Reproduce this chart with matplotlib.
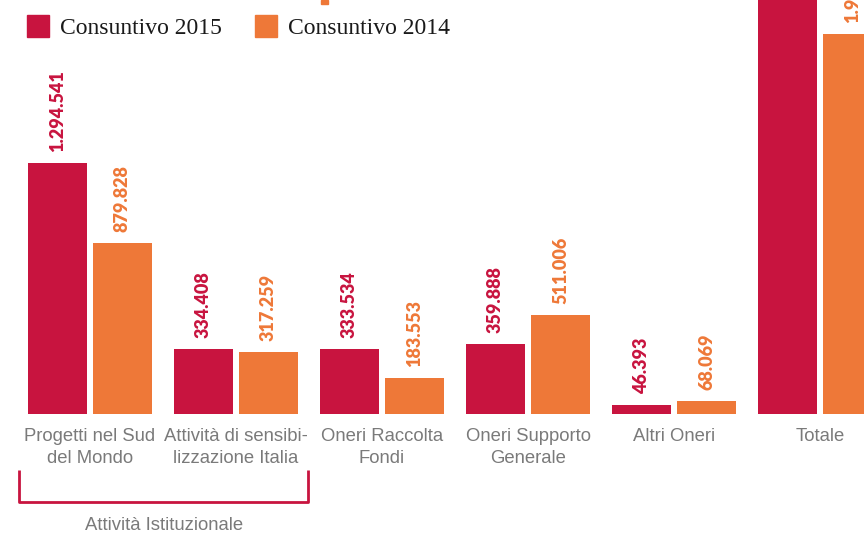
import matplotlib.pyplot as plt
from matplotlib.transforms import blended_transform_factory

categories = ["Progetti nel Sud\ndel Mondo", "Attività di sensibi-\nlizzazione Italia",
              "Oneri Raccolta\nFondi", "Oneri Supporto\nGenerale", "Altri Oneri", "Totale"]
cons_2015 = [1294541, 334408, 333534, 359888, 46393, 2368764]
cons_2014 = [879828, 317259, 183553, 511006, 68069, 1959715]
series_names = ["Consuntivo 2015", "Consuntivo 2014"]
group_label = "Attività Istituzionale"

red = "#C8143F"
orange = "#EE7838"
gray = "#7a7a7a"

fig = plt.figure(figsize=(8.64, 5.36), dpi=100)
ax = fig.add_axes([0, 0, 1, 1])
ax.set_xlim(-0.616, 5.301)
ax.set_ylim(-628500, 2133000)
ax.axis("off")

w = 0.404
off = 0.2226
x = list(range(len(categories)))


def fmt(v):
    return f"{v:,}".replace(",", ".")


for vals, col, sgn in [(cons_2015, red, -1), (cons_2014, orange, 1)]:
    xs = [i + sgn * off for i in x]
    ax.bar(xs, vals, width=w, color=col, linewidth=0)
    for xi, v in zip(xs, vals):
        ax.annotate(fmt(v), (xi, v), xytext=(0, 8), textcoords="offset points",
                    rotation=90, ha="center", va="bottom", color=col,
                    fontsize=13, fontweight="heavy", family="Lato",
                    annotation_clip=False)

trans = blended_transform_factory(ax.transData, ax.transAxes)
for i, lab in enumerate(categories):
    ax.text(i, 0.201, lab, transform=trans, ha="center", va="top",
            color=gray, fontsize=13.3, family="Liberation Sans", linespacing=1.35)

# bracket under the first two groups
x0 = -off - w / 2 - 0.06
x1 = 1 + off + w / 2 + 0.07
ax.plot([x0, x0, x1, x1], [0.123, 0.063, 0.063, 0.123], transform=trans,
        color=red, linewidth=2, solid_capstyle="butt", clip_on=False)
ax.text((x0 + x1) / 2, 0.02, group_label, transform=trans, ha="center",
        va="center", color=gray, fontsize=13.3, family="Liberation Sans")

# legend
for xs, col, name in [(27, red, series_names[0]), (255, orange, series_names[1])]:
    fig.patches.append(plt.Rectangle((xs / 864, 1 - 37 / 536), 22 / 864, 22 / 536,
                                     transform=fig.transFigure, color=col))
    fig.text((xs + 33) / 864, 1 - 29 / 536, name, ha="left", va="center",
             fontsize=17, family="Liberation Serif", color="#1a1a1a")

# small orange tick at the top (cut-off title underline)
fig.patches.append(plt.Rectangle((321 / 864, 1 - 4 / 536), 7 / 864, 4 / 536,
                                 transform=fig.transFigure, color=orange))

fig.savefig("out.png", dpi=100)
